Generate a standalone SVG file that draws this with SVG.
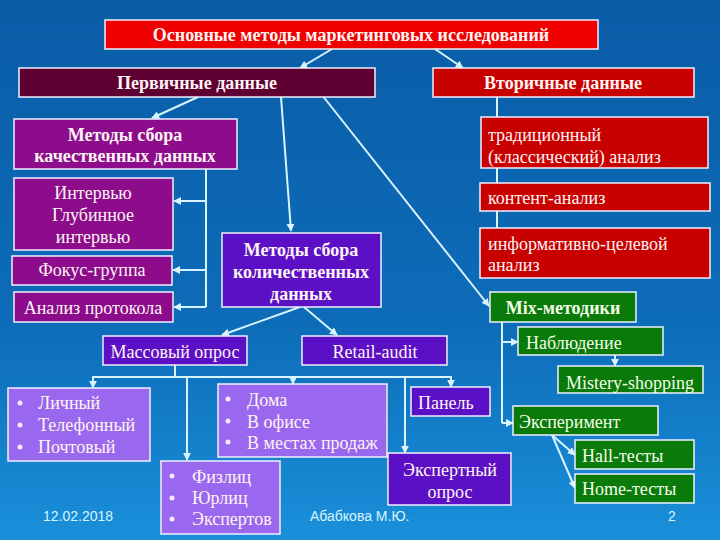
<svg xmlns="http://www.w3.org/2000/svg" width="720" height="540" viewBox="0 0 720 540">
<defs>
<linearGradient id="bg" x1="0" y1="0" x2="0" y2="1">
<stop offset="0" stop-color="#0a5ca6"/>
<stop offset="0.6" stop-color="#0d6cb8"/>
<stop offset="1" stop-color="#1a90da"/>
</linearGradient>
<marker id="ah" viewBox="0 0 10 10" refX="9" refY="5" markerWidth="4" markerHeight="4" orient="auto" markerUnits="strokeWidth">
<path d="M0,0 L10,5 L0,10 z" fill="#d8f4ff"/>
</marker>
<style>
.b{stroke:#f0f0ff;stroke-width:1.5}
.red{fill:#ee0000}.mar{fill:#5e0032}.dred{fill:#c80000}.mag{fill:#8c0c8c}.vio{fill:#5c10c6}.lv{fill:#9a68ee}.grn{fill:#0a7a0a}
text{font-family:"Liberation Serif","DejaVu Serif",serif;fill:#fff4f4;font-size:18px}
.bd{font-weight:bold}
.c{text-anchor:middle}
.g{fill:#f4ffe8}
.f{font-family:"Liberation Sans",Arial,sans-serif;fill:#d8f4ff;font-size:14px}
.cn line,.cn polyline,.cn path{stroke:#d8f4ff;stroke-width:2;fill:none}
.blt{fill:#f4e8ff}
</style>
</defs>
<rect width="720" height="540" fill="url(#bg)"/>

<g class="cn">
<line x1="332" y1="49" x2="300" y2="68" marker-end="url(#ah)"/>
<line x1="435" y1="49" x2="463" y2="68" marker-end="url(#ah)"/>
<line x1="198" y1="97" x2="152" y2="118" marker-end="url(#ah)"/>
<line x1="281" y1="97" x2="291" y2="231" marker-end="url(#ah)"/>
<line x1="322" y1="95" x2="489" y2="306" marker-end="url(#ah)"/>
<polyline points="206,169 206,307"/>
<line x1="206" y1="201" x2="174" y2="201" marker-end="url(#ah)"/>
<line x1="206" y1="270" x2="173" y2="270" marker-end="url(#ah)"/>
<line x1="206" y1="307" x2="174" y2="307" marker-end="url(#ah)"/>
<polyline points="497,97 497,252"/>
<line x1="497" y1="150" x2="481" y2="150" marker-end="url(#ah)"/>
<line x1="497" y1="197" x2="480" y2="197" marker-end="url(#ah)"/>
<line x1="497" y1="252" x2="480" y2="252" marker-end="url(#ah)"/>
<polyline points="502,322 502,423"/>
<line x1="502" y1="342" x2="518" y2="342" marker-end="url(#ah)"/>
<line x1="502" y1="423" x2="513" y2="423" marker-end="url(#ah)"/>
<line x1="615" y1="355" x2="615" y2="366" marker-end="url(#ah)"/>
<line x1="552" y1="435" x2="575" y2="455" marker-end="url(#ah)"/>
<line x1="552" y1="435" x2="575" y2="488" marker-end="url(#ah)"/>
<line x1="300" y1="307" x2="222" y2="335" marker-end="url(#ah)"/>
<line x1="304" y1="307" x2="337" y2="335" marker-end="url(#ah)"/>
<polyline points="175,365 175,377"/>
<polyline points="93,388 93,377 451,377 451,387" marker-end="url(#ah)"/>
<line x1="93" y1="379" x2="93" y2="388" marker-end="url(#ah)"/>
<line x1="187" y1="377" x2="187" y2="460" marker-end="url(#ah)"/>
<line x1="293" y1="377" x2="293" y2="384" marker-end="url(#ah)"/>
<line x1="405" y1="377" x2="405" y2="453" marker-end="url(#ah)"/>
</g>

<g id="title"><rect class="b red" x="105" y="20" width="493" height="29"/><text class="bd c" x="351" y="41" font-size="17">Основные методы маркетинговых исследований</text></g>
<g id="primary"><rect class="b mar" x="19" y="68" width="356" height="29"/><text class="bd c" x="197" y="89">Первичные данные</text></g>
<g id="secondary"><rect class="b dred" x="433" y="68" width="261" height="29"/><text class="bd c" x="563" y="89">Вторичные данные</text></g>

<g id="qual"><rect class="b mag" x="14" y="119" width="223" height="50"/><text class="bd c" x="125" y="141">Методы сбора</text><text class="bd c" x="125" y="162">качественных данных</text></g>
<g id="interview"><rect class="b mag" x="14" y="178" width="159" height="72"/><text class="c" x="93" y="199">Интервью</text><text class="c" x="93" y="221">Глубинное</text><text class="c" x="93" y="243">интервью</text></g>
<g id="focus"><rect class="b mag" x="12" y="256" width="160" height="29"/><text class="c" x="92" y="276">Фокус-группа</text></g>
<g id="protocol"><rect class="b mag" x="14" y="292" width="159" height="30"/><text class="c" x="93" y="314">Анализ протокола</text></g>

<g id="quant"><rect class="b vio" x="222" y="233" width="159" height="74"/><text class="bd c" x="301" y="256">Методы сбора</text><text class="bd c" x="301" y="278">количественных</text><text class="bd c" x="301" y="300">данных</text></g>

<g id="trad"><rect class="b dred" x="481" y="117" width="227" height="51"/><text x="488" y="141">традиционный</text><text x="488" y="163">(классический) анализ</text></g>
<g id="content"><rect class="b dred" x="480" y="183" width="230" height="28"/><text x="488" y="204">контент-анализ</text></g>
<g id="inform"><rect class="b dred" x="480" y="228" width="230" height="50"/><text x="488" y="250">информативно-целевой</text><text x="488" y="271">анализ</text></g>

<g id="mix"><rect class="b grn" x="490" y="292" width="146" height="30"/><text class="bd c g" x="563" y="314">Mix-методики</text></g>
<g id="observ"><rect class="b grn" x="518" y="327" width="145" height="28"/><text class="g" x="526" y="349">Наблюдение</text></g>
<g id="mistery"><rect class="b grn" x="558" y="366" width="145" height="27"/><text class="c g" x="630" y="389">Mistery-shopping</text></g>
<g id="exper"><rect class="b grn" x="513" y="406" width="145" height="29"/><text class="g" x="519" y="428">Эксперимент</text></g>
<g id="hall"><rect class="b grn" x="575" y="440" width="119" height="29"/><text class="g" x="582" y="462">Hall-тесты</text></g>
<g id="home"><rect class="b grn" x="575" y="474" width="119" height="29"/><text class="g" x="582" y="495">Home-тесты</text></g>

<g id="mass"><rect class="b vio" x="103" y="336" width="144" height="29"/><text class="c" x="175" y="358">Массовый опрос</text></g>
<g id="retail"><rect class="b vio" x="302" y="336" width="145" height="29"/><text class="c" x="375" y="358">Retail-audit</text></g>
<g id="panel"><rect class="b vio" x="411" y="387" width="79" height="29"/><text x="418" y="409">Панель</text></g>
<g id="expert"><rect class="b vio" x="388" y="453" width="123" height="52"/><text class="c" x="450" y="476">Экспертный</text><text class="c" x="450" y="498">опрос</text></g>

<g id="personal"><rect class="b lv" x="8" y="388" width="142" height="73"/>
<circle class="blt" cx="20" cy="403" r="2.5"/><circle class="blt" cx="20" cy="425" r="2.5"/><circle class="blt" cx="20" cy="447" r="2.5"/>
<text x="38" y="409">Личный</text><text x="38" y="431">Телефонный</text><text x="38" y="453">Почтовый</text></g>
<g id="home-office"><rect class="b lv" x="218" y="384" width="169" height="73"/>
<circle class="blt" cx="228" cy="399" r="2.5"/><circle class="blt" cx="228" cy="421" r="2.5"/><circle class="blt" cx="228" cy="442" r="2.5"/>
<text x="247" y="406">Дома</text><text x="247" y="428">В офисе</text><text x="247" y="449">В местах продаж</text></g>
<g id="persons"><rect class="b lv" x="161" y="461" width="119" height="73"/>
<circle class="blt" cx="172" cy="476" r="2.5"/><circle class="blt" cx="172" cy="498" r="2.5"/><circle class="blt" cx="172" cy="519" r="2.5"/>
<text x="192" y="483">Физлиц</text><text x="192" y="504">Юрлиц</text><text x="192" y="525">Экспертов</text></g>

<text class="f" x="43" y="521">12.02.2018</text>
<text class="f" x="310" y="521">Абабкова М.Ю.</text>
<text class="f" x="668" y="521">2</text>
</svg>
